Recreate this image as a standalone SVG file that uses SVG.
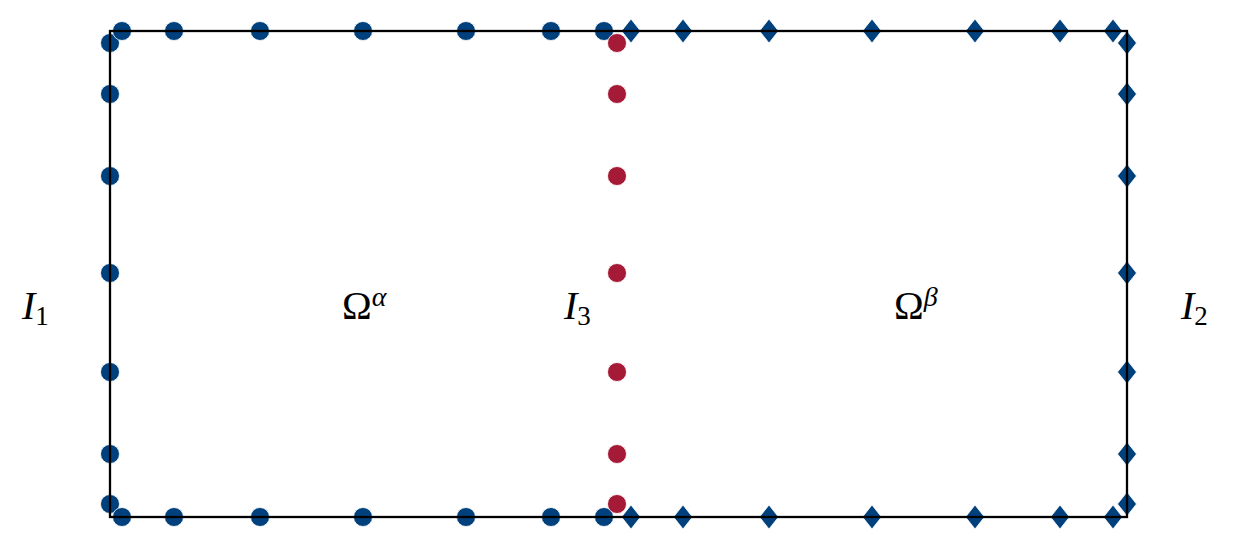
<svg xmlns="http://www.w3.org/2000/svg" width="1233" height="549" viewBox="0 0 1233 549">
<style>
.b{fill:#00407c;stroke:#fff;stroke-width:0.8}
.r{fill:#a51a36;stroke:#fff;stroke-width:0.8}
.t{font-family:"Liberation Serif","DejaVu Serif",serif;font-size:40px;fill:#000}
.i{font-style:italic}
</style>
<defs>
<circle id="c" r="9.5"/>
<path id="d" d="M0,-12 L9.5,0 L0,12 L-9.5,0 Z"/>
</defs>
<g id="left" class="b">
<use href="#c" x="110" y="43"/><use href="#c" x="110" y="94"/><use href="#c" x="110" y="176"/><use href="#c" x="110" y="273"/><use href="#c" x="110" y="372"/><use href="#c" x="110" y="454"/><use href="#c" x="110" y="504"/>
</g>
<g id="top-a" class="b">
<use href="#c" x="122" y="31"/><use href="#c" x="174" y="31"/><use href="#c" x="260" y="31"/><use href="#c" x="363" y="31"/><use href="#c" x="466" y="31"/><use href="#c" x="551" y="31"/><use href="#c" x="604" y="31"/>
</g>
<g id="bottom-a" class="b">
<use href="#c" x="122" y="517"/><use href="#c" x="174" y="517"/><use href="#c" x="260" y="517"/><use href="#c" x="363" y="517"/><use href="#c" x="466" y="517"/><use href="#c" x="551" y="517"/><use href="#c" x="604" y="517"/>
</g>
<g id="interface" class="r">
<use href="#c" x="617" y="43"/><use href="#c" x="617" y="94"/><use href="#c" x="617" y="176"/><use href="#c" x="617" y="273"/><use href="#c" x="617" y="372"/><use href="#c" x="617" y="454"/><use href="#c" x="617" y="504"/>
</g>
<g id="top-b" class="b">
<use href="#d" x="631" y="31"/><use href="#d" x="683" y="31"/><use href="#d" x="769" y="31"/><use href="#d" x="872" y="31"/><use href="#d" x="975" y="31"/><use href="#d" x="1060" y="31"/><use href="#d" x="1113" y="31"/>
</g>
<g id="bottom-b" class="b">
<use href="#d" x="631" y="517"/><use href="#d" x="683" y="517"/><use href="#d" x="769" y="517"/><use href="#d" x="872" y="517"/><use href="#d" x="975" y="517"/><use href="#d" x="1060" y="517"/><use href="#d" x="1113" y="517"/>
</g>
<g id="right" class="b">
<use href="#d" x="1127" y="43"/><use href="#d" x="1127" y="94"/><use href="#d" x="1127" y="176"/><use href="#d" x="1127" y="273"/><use href="#d" x="1127" y="372"/><use href="#d" x="1127" y="454"/><use href="#d" x="1127" y="504"/>
</g>
<rect id="domain" x="110" y="31" width="1017" height="486" fill="none" stroke="#000" stroke-width="2.3"/>
<g id="labels" class="t">
<text x="22" y="319"><tspan class="i">I</tspan><tspan font-size="27" dy="6">1</tspan></text>
<text x="342" y="319">Ω<tspan class="i" font-size="28" dy="-13">α</tspan></text>
<text x="564" y="319"><tspan class="i">I</tspan><tspan font-size="27" dy="6">3</tspan></text>
<text x="894" y="319">Ω<tspan class="i" font-size="28" dy="-13">β</tspan></text>
<text x="1181" y="319"><tspan class="i">I</tspan><tspan font-size="27" dy="6">2</tspan></text>
</g>
</svg>
